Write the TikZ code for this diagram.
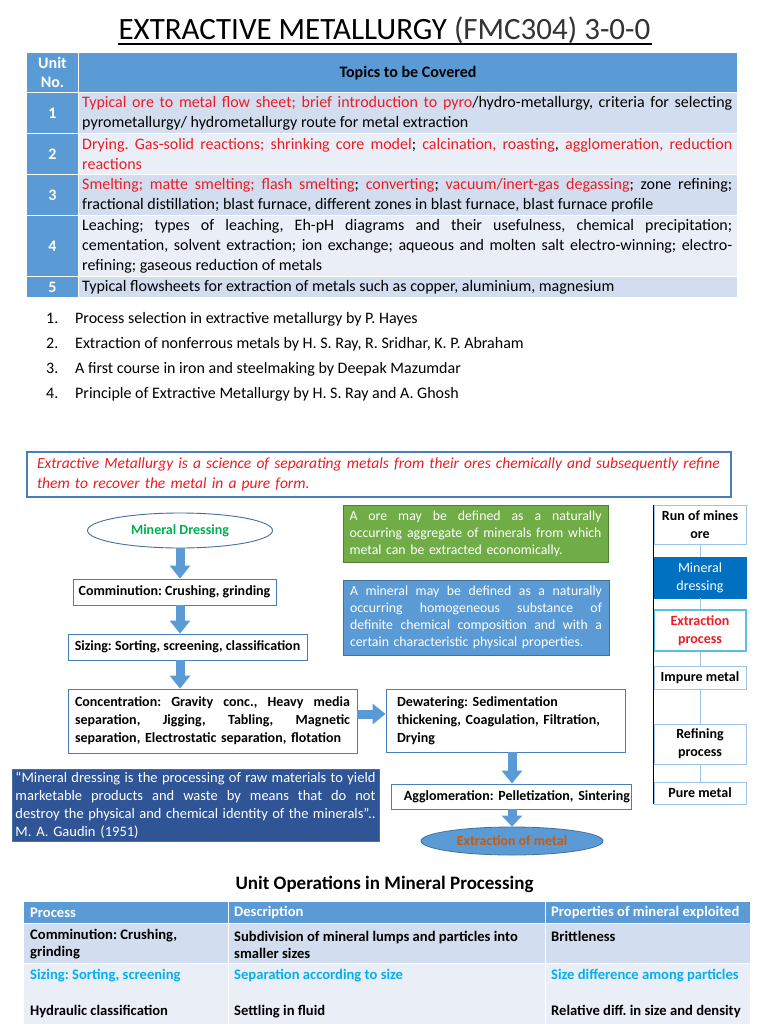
\documentclass[tikz,border=0pt]{standalone}
\usepackage{fontspec}
\setmainfont{Carlito}
\usetikzlibrary{arrows.meta,shapes.geometric,calc}
\definecolor{hdr}{HTML}{5B9BD5}
\definecolor{rowA}{HTML}{D2DEEF}
\definecolor{rowB}{HTML}{EAEFF7}
\definecolor{redt}{RGB}{235,28,36}
\definecolor{grn}{HTML}{70AD47}
\definecolor{grnb}{HTML}{507E32}
\definecolor{qblue}{HTML}{2F5597}
\definecolor{dblue}{HTML}{0070C0}
\definecolor{orng}{HTML}{C55A11}
\definecolor{mgreen}{HTML}{00B050}
\definecolor{cyant}{HTML}{00B0F0}
\definecolor{lblue}{HTML}{9DC3E6}
\definecolor{bordb}{HTML}{41719C}
\definecolor{boxb}{HTML}{4A7EBB}
\definecolor{cyanb}{HTML}{5BC0DE}
\definecolor{lightk}{HTML}{333333}
\newcommand{\jst}[2]{{\frenchspacing\spaceskip=0pt\xspaceskip=0pt\makebox[#1][s]{#2}}}
\newcommand{\rd}[1]{\textcolor{redt}{#1}}
\begin{document}
\frenchspacing
\begin{tikzpicture}[x=1pt,y=-1pt,
  every node/.append style={execute at begin node={\frenchspacing}},
  tbl/.style={font=\fontsize{16}{20}\selectfont, inner sep=0pt, align=left, anchor=west},
  hw/.style={font=\bfseries\fontsize{16}{19}\selectfont, text=white, inner sep=0pt, align=center},
  refs/.style={font=\fontsize{16}{18}\selectfont, inner sep=0pt, anchor=west},
  flow/.style={draw=boxb, line width=0.9pt, fill=white, font=\bfseries\fontsize{14}{18}\selectfont, inner ysep=0pt},
  defn/.style={line width=0.8pt, font=\fontsize{13.8}{17}\selectfont, text=white, align=left, inner ysep=0pt},
  rcol/.style={draw=lblue, line width=0.9pt, fill=white, minimum width=92pt, inner sep=0pt, align=center, font=\bfseries\fontsize{14}{18}\selectfont},
  btxt/.style={font=\bfseries\fontsize{14.6}{17}\selectfont, inner sep=0pt, anchor=west, align=left},
  barrow/.style={draw=hdr, line width=9pt, -{Triangle[length=13pt,width=20pt]}}
]
\useasboundingbox (0,0) rectangle (768,1024);
\fill[white] (0,0) rectangle (768,1024);

% ---------- title
\node[font=\fontsize{31}{36}\selectfont, inner sep=0pt, anchor=base] (title) at (384.5,40) {EXTRACTIVE METALLURGY \textcolor{lightk}{(FMC304) 3-0-0}};
\fill[black] (117.5,42.6) rectangle (651.5,44.6);

% ---------- top table
\fill[hdr] (27,53) rectangle (78,92);
\fill[hdr] (79,53) rectangle (737,92);
\foreach \a/\b/\c in {93/133/rowA,134/174/rowB,175/215/rowA,216/276/rowB,277/297/rowA}{
  \fill[hdr] (27,\a) rectangle (78,\b);
  \fill[\c] (79,\a) rectangle (737,\b);
}
\node[hw] (unitno) at (52.5,72.5) {Unit\\No.};
\node[font=\bfseries\fontsize{16}{19}\selectfont, inner sep=0pt] (topics) at (408,73) {Topics to be Covered};
\node[hw] (n1) at (52.5,113) {1};
\node[hw] (n2) at (52.5,154) {2};
\node[hw] (n3) at (52.5,195) {3};
\node[hw] (n4) at (52.5,246) {4};
\node[hw] (n5) at (52.5,287) {5};

\node[tbl] (t1) at (82,113) {\jst{650pt}{\rd{Typical ore to metal flow sheet; brief introduction to pyro}/hydro-metallurgy, criteria for selecting}\\pyrometallurgy/ hydrometallurgy route for metal extraction};
\node[tbl] (t2) at (82,154) {\jst{650pt}{\rd{Drying. Gas-solid reactions; shrinking core model}; \rd{calcination, roasting}, \rd{agglomeration, reduction}}\\\rd{reactions}};
\node[tbl] (t3) at (82,195) {\jst{650pt}{\rd{Smelting; matte smelting; flash smelting}; \rd{converting}; \rd{vacuum/inert-gas degassing}; zone refining;}\\fractional distillation; blast furnace, different zones in blast furnace, blast furnace profile};
\node[tbl] (t4) at (82,246) {\jst{650pt}{Leaching; types of leaching, Eh-pH diagrams and their usefulness, chemical precipitation;}\\\jst{650pt}{cementation, solvent extraction; ion exchange; aqueous and molten salt electro-winning; electro-}\\refining; gaseous reduction of metals};
\node[tbl] (t5) at (82,287) {Typical flowsheets for extraction of metals such as copper, aluminium, magnesium};

% ---------- references
\node[refs] (ref1) at (46,319) {\makebox[29pt][l]{1.}Process selection in extractive metallurgy by P. Hayes};
\node[refs] (ref2) at (46,344) {\makebox[29pt][l]{2.}Extraction of nonferrous metals by H. S. Ray, R. Sridhar, K. P. Abraham};
\node[refs] (ref3) at (46,369) {\makebox[29pt][l]{3.}A first course in iron and steelmaking by Deepak Mazumdar};
\node[refs] (ref4) at (46,394) {\makebox[29pt][l]{4.}Principle of Extractive Metallurgy by H. S. Ray and A. Ghosh};

% ---------- definition
\node[draw=boxb, line width=1.1pt, minimum width=704pt, minimum height=45pt, text width=684pt, inner xsep=10pt, inner ysep=0pt, align=left, font=\itshape\fontsize{15.5}{20}\selectfont, text=redt] (def) at (379,474.5) {Extractive Metallurgy is a science of separating metals from their ores chemically and subsequently refine\\them to recover the metal in a pure form.};

% ---------- flow chart
\node[ellipse, draw=bordb, line width=0.9pt, fill=white, minimum width=185pt, minimum height=35pt, inner sep=0pt, font=\bfseries\fontsize{14}{17}\selectfont, text=mgreen] (md) at (180,530.5) {Mineral Dressing};
\node[flow, minimum width=203pt, minimum height=26pt] (comm) at (174.5,592) {Comminution: Crushing, grinding};
\node[flow, minimum width=239pt, minimum height=26pt] (sz) at (187.5,647) {Sizing: Sorting, screening, classification};
\node[flow, minimum width=289pt, minimum height=64pt, text width=275pt, inner xsep=7pt, align=left] (conc) at (212.5,721) {\jst{275pt}{Concentration: Gravity conc., Heavy media}\\\jst{275pt}{separation, Jigging, Tabling, Magnetic}\\separation, Electrostatic separation, flotation};
\node[flow, minimum width=239pt, minimum height=63pt, text width=217pt, inner xsep=11pt, align=left] (dew) at (505.5,720.5) {Dewatering: Sedimentation\\thickening, Coagulation, Filtration,\\Drying};
\node[flow, minimum width=240pt, minimum height=25pt, text width=238pt, inner xsep=1pt, align=right] (agg) at (511,796.5) {Agglomeration: Pelletization, Sintering};
\node[ellipse, draw=bordb, line width=0.8pt, fill=hdr, minimum width=182pt, minimum height=28pt, inner sep=0pt, font=\bfseries\fontsize{14}{17}\selectfont, text=orng] (ex) at (512,841) {Extraction of metal};

\draw[barrow] (md.south) -- (md.south |- comm.north);
\draw[barrow] (comm.south -| md.center) -- (sz.north -| md.center);
\draw[barrow] (sz.south -| md.center) -- (conc.north -| md.center);
\coordinate (h1) at ($(conc.east)+(0,-7)$);
\draw[barrow] (h1) -- (h1 -| dew.west);
\draw[barrow] (dew.south -| ex.center) -- (agg.north -| ex.center);
\draw[barrow, -{Triangle[length=11pt,width=20pt]}] (agg.south -| ex.center) -- (ex.north);

% ---------- quote
\node[fill=qblue, draw=bordb, line width=0.6pt, minimum width=367pt, minimum height=72pt, text width=360pt, inner xsep=3.5pt, inner ysep=0pt, align=left, text=white, font=\fontsize{14.5}{18}\selectfont] (quote) at (195.5,805) {\jst{360pt}{“Mineral dressing is the processing of raw materials to yield}\\\jst{360pt}{marketable products and waste by means that do not}\\\jst{360pt}{destroy the physical and chemical identity of the minerals”..}\\M. A. Gaudin (1951)};

% ---------- ore / mineral definitions
\node[defn, fill=grn, draw=grnb, minimum width=265pt, minimum height=57pt, text width=252pt, inner xsep=6.5pt] (ore) at (475.5,533.5) {\jst{252pt}{A ore may be defined as a naturally}\\\jst{252pt}{occurring aggregate of minerals from which}\\metal can be extracted economically.};
\node[defn, fill=hdr, draw=bordb, minimum width=266pt, minimum height=75pt, text width=252pt, inner xsep=7pt] (mineral) at (476,617.5) {\jst{252pt}{A mineral may be defined as a naturally}\\\jst{252pt}{occurring homogeneous substance of}\\\jst{252pt}{definite chemical composition and with a}\\certain characteristic physical properties.};

% ---------- right column
\node[rcol, minimum height=39pt] (rom) at (700,524.5) {Run of mines\\ore};
\node[rcol, minimum height=41pt, fill=dblue, draw=dblue, text=white, font=\fontsize{14}{18}\selectfont] (mdr) at (700,577.5) {Mineral\\dressing};
\node[rcol, minimum height=41pt, draw=cyanb, line width=1.4pt, text=redt] (exp) at (700,630.5) {Extraction\\process};
\node[rcol, minimum height=23pt] (imp) at (700,677.5) {Impure metal};
\node[rcol, minimum height=40pt] (refp) at (700,744) {Refining\\process};
\node[rcol, minimum height=22pt] (pure) at (700,793) {Pure metal};
\draw[lblue, line width=0.8pt] (rom.south) -- (mdr.north);
\draw[lblue, line width=0.8pt] (mdr.south) -- (exp.north);
\draw[lblue, line width=0.8pt] (exp.south) -- (imp.north);
\draw[lblue, line width=0.8pt] (imp.south) -- (refp.north);
\draw[lblue, line width=0.8pt] (refp.south) -- (pure.north);
\draw[black, line width=1.2pt] (rom.north west) -- (rom.north west |- pure.south);

% ---------- bottom table
\node[font=\bfseries\fontsize{19}{22}\selectfont, inner sep=0pt] (uop) at (384.5,884) {Unit Operations in Mineral Processing};
\fill[hdr] (24,902) rectangle (228,923);
\fill[hdr] (229,902) rectangle (545,923);
\fill[hdr] (546,902) rectangle (750,923);
\fill[rowA] (24,924) rectangle (228,963);
\fill[rowA] (229,924) rectangle (545,963);
\fill[rowA] (546,924) rectangle (750,963);
\fill[rowB] (24,964) rectangle (228,1024);
\fill[rowB] (229,964) rectangle (545,1024);
\fill[rowB] (546,964) rectangle (750,1024);
\node[btxt, text=white] (h1t) at (30,912.5) {Process};
\node[btxt, text=white] (h2t) at (234,912.5) {Description};
\node[btxt, text=white] (h3t) at (551,912.5) {Properties of mineral exploited};
\node[btxt] (c11) at (30,944.5) {Comminution: Crushing,\\grinding};
\node[btxt] (c12) at (234,944.5) {Subdivision of mineral lumps and particles into\\smaller sizes};
\node[btxt] (c13) at (551,936) {Brittleness};
\node[btxt, text=cyant] (c21) at (30,976) {Sizing: Sorting, screening};
\node[btxt, text=cyant] (c22) at (234,976) {Separation according to size};
\node[btxt, text=cyant] (c23) at (551,976) {Size difference among particles};
\node[btxt] (c31) at (30,1012) {Hydraulic classification};
\node[btxt] (c32) at (234,1012) {Settling in fluid};
\node[btxt] (c33) at (551,1012) {Relative diff. in size and density};
\end{tikzpicture}
\end{document}
